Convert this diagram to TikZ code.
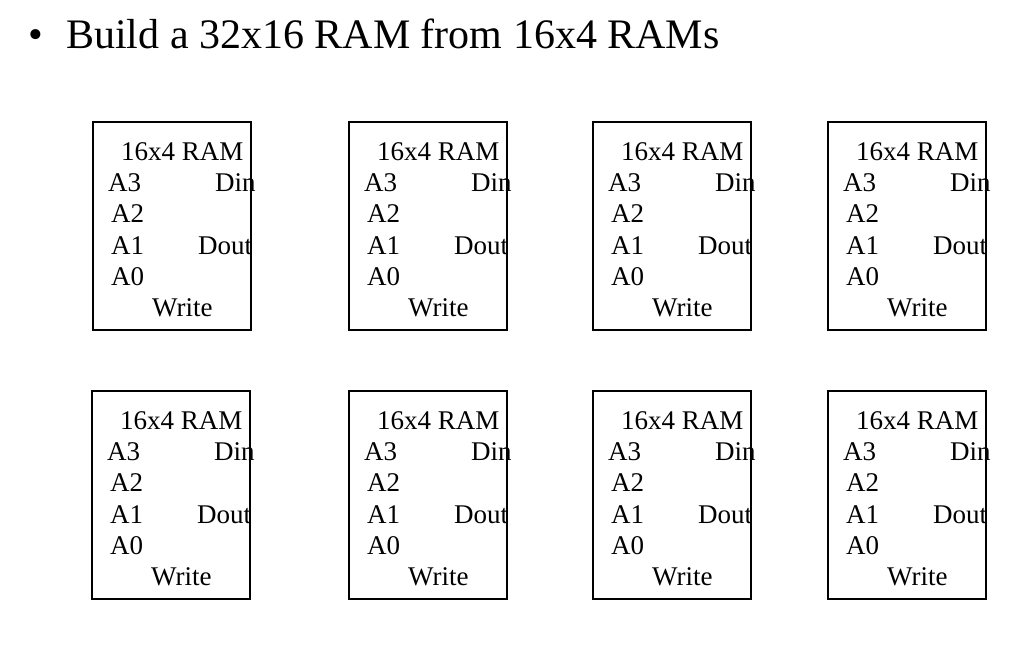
\documentclass[tikz,border=0pt]{standalone}
\usepackage{fontspec}
\setmainfont{Liberation Serif}
\begin{document}
\begin{tikzpicture}[x=1pt,y=-1pt,
    ram/.style={draw,line width=1.6pt,minimum width=158pt,minimum height=208pt,
      anchor=north west,inner sep=0pt},
    pin/.style={anchor=base west,inner sep=0pt,font=\fontsize{27}{27}\selectfont}]
  \useasboundingbox (0,0) rectangle (1024,649);

  \node[anchor=base west,inner sep=0pt,font=\fontsize{42}{42}\selectfont] (bullet) at (28,48) {\textbullet};
  \node[anchor=base west,inner sep=0pt,font=\fontsize{42}{42}\selectfont] (title) at (66,48) {Build a 32x16 RAM from 16x4 RAMs};

  \foreach \n/\x/\y in {a/92/121, b/348/121, c/592/121, d/827/121,
                        e/91/390, f/348/390, g/592/390, h/827/390} {
    \node[ram] (ram\n) at (\x,\y) {};
    \node[pin] (name\n) at (\x+29,\y+39) {16x4 RAM};
    \node[pin] (athree\n) at (\x+16,\y+70) {A3};
    \node[pin] (atwo\n) at (\x+19,\y+101) {A2};
    \node[pin] (aone\n) at (\x+19,\y+133) {A1};
    \node[pin] (azero\n) at (\x+19,\y+164) {A0};
    \node[pin] (din\n) at (\x+123,\y+70) {Din};
    \node[pin] (dout\n) at (\x+106,\y+133) {Dout};
    \node[pin] (write\n) at (\x+60,\y+195) {Write};
  }
\end{tikzpicture}
\end{document}
